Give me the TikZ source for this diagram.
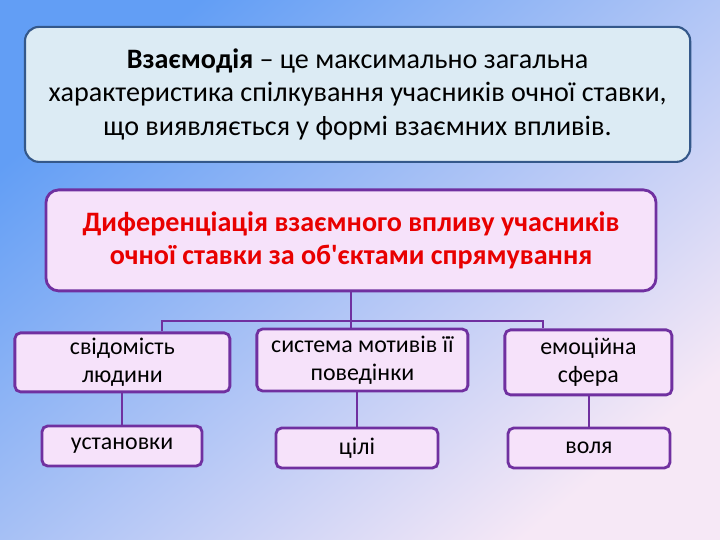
\documentclass[tikz,border=0pt]{standalone}
\usepackage{fontspec}
\newfontfamily\carlito{Carlito}
\usepackage{tikz}

\definecolor{bgblue}{RGB}{98,158,245}
\definecolor{bgpink}{RGB}{246,232,246}
\definecolor{topfill}{RGB}{220,235,244}
\definecolor{topdraw}{RGB}{52,88,138}
\definecolor{lilac}{RGB}{246,226,250}
\definecolor{plum}{RGB}{112,48,160}
\definecolor{headred}{RGB}{232,0,0}

\tikzset{
  mainbox/.style = {draw = topdraw, line width = 1.5pt, fill = topfill, rounded corners = 10pt,
    align = center, font = \carlito\fontsize{20}{24}\selectfont},
  headbox/.style = {draw = plum, line width = 2pt, fill = lilac, rounded corners = 9pt,
    align = center, text = headred, font = \carlito\fontsize{20}{24}\selectfont\bfseries},
  leafbox/.style = {draw = plum, line width = 2pt, fill = lilac, rounded corners = 4pt,
    align = center, inner sep = 0pt, font = \carlito\fontsize{17}{20}\selectfont},
  link/.style = {draw = plum, line width = 2pt}
}

\begin{document}
\begin{tikzpicture}
\useasboundingbox (0, 0) rectangle (18, 13.5);
\shade[top color = bgblue, bottom color = bgpink, shading angle = 40] (0, 0) rectangle (18, 13.5);

\node[mainbox, minimum width = 16.63cm, minimum height = 3.375cm] (def) at (8.94, 11.14)
  {\textbf{Взаємодія} – це максимально загальна\\
   характеристика спілкування учасників очної ставки,\\
   що виявляється у формі взаємних впливів.};

\node[headbox, minimum width = 15.25cm, minimum height = 2.525cm] (diff) at (8.775, 7.49)
  {Диференціація взаємного впливу учасників\\
   очної ставки за об'єктами спрямування};

\node[leafbox, minimum width = 5.375cm, minimum height = 1.475cm] (b1) at (3.06, 4.44)
  {свідомість\\людини};
\node[leafbox, minimum width = 5.275cm, minimum height = 1.55cm] (b2) at (9.06, 4.5)
  {система мотивів її\\поведінки};
\node[leafbox, minimum width = 4.175cm, minimum height = 1.625cm] (b3) at (14.71, 4.44)
  {емоційна\\сфера};

\node[leafbox, minimum width = 4cm, minimum height = 1cm] (c1) at (3.05, 2.35) {установки};
\node[leafbox, minimum width = 4.05cm, minimum height = 1cm] (c2) at (8.925, 2.3) {цілі};
\node[leafbox, minimum width = 4.05cm, minimum height = 1cm] (c3) at (14.725, 2.3) {воля};

% tree under the heading
\coordinate (fork) at (8.775, 5.475);
\coordinate (left) at (4.05, 5.475);
\coordinate (right) at (13.575, 5.475);
\draw[link] (diff.south) -- (fork);
\draw[link] (left |- b1.north) -- (left) -- (right) -- (right |- b3.north);
\draw[link] (fork) -- (fork |- b2.north);

\draw[link] (c1.north |- b1.south) -- (c1.north);
\draw[link] (c2.north |- b2.south) -- (c2.north);
\draw[link] (c3.north |- b3.south) -- (c3.north);
\end{tikzpicture}
\end{document}
